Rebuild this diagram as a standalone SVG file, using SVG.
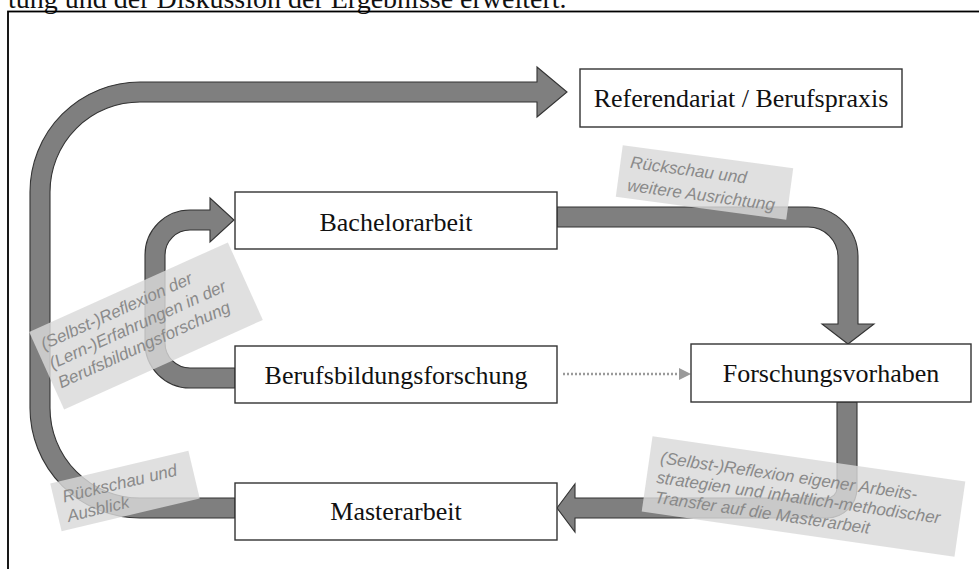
<svg xmlns="http://www.w3.org/2000/svg" width="979" height="569" viewBox="0 0 979 569">
<style>
.frame{fill:none;stroke:#000;stroke-width:1.8}
.arrow{fill:#7f7f7f;stroke:#333;stroke-width:1.1;stroke-linejoin:miter}
.box{fill:#fff;stroke:#333;stroke-width:1.4}
.nt{font-family:"Liberation Serif","Times New Roman",serif;font-size:26px;fill:#111;text-anchor:middle}
.top{font-family:"Liberation Serif","Times New Roman",serif;font-size:28px;fill:#111}
.lb{fill:#d9d9d9;fill-opacity:0.82}
.lt{font-family:"Liberation Sans",Arial,sans-serif;font-size:17px;font-style:italic;fill:#8a8a8a}
.dot{stroke:#9a9a9a;stroke-width:2.5;stroke-dasharray:2 2;fill:none}
</style>
<rect x="0" y="0" width="979" height="569" fill="#fff"/>
<text class="top" x="8" y="8">tung und der Diskussion der Ergebnisse erweitert.</text>
<rect class="frame" x="8" y="11.5" width="1000" height="600"/>
<g id="connectors">
<path class="arrow" d="M 235 518 L 140 518 A 110 110 0 0 1 30 408 L 30 192 A 110 110 0 0 1 140 82 L 537 82 L 537 67 L 567 92 L 537 117 L 537 102 L 140 102 A 90 90 0 0 0 50 192 L 50 408 A 90 90 0 0 0 140 498 L 235 498 Z"/>
<path class="arrow" d="M 235 388 L 190 388 A 45 45 0 0 1 145 343 L 145 255 A 45 45 0 0 1 190 210 L 210 210 L 210 198 L 234 220 L 210 242 L 210 230 L 190 230 A 25 25 0 0 0 165 255 L 165 343 A 25 25 0 0 0 190 368 L 235 368 Z"/>
<path class="arrow" d="M 557 207 L 808 207 A 50 50 0 0 1 858 257 L 858 324 L 874 324 L 848 344 L 822 324 L 838 324 L 838 257 A 30 30 0 0 0 808 227 L 557 227 Z"/>
<path class="arrow" d="M 837 402 L 857 402 L 857 488 A 30 30 0 0 1 827 518 L 575 518 L 575 532 L 557 508 L 575 484 L 575 498 L 827 498 A 10 10 0 0 0 837 488 Z"/>
<line class="dot" x1="563" y1="374" x2="680" y2="374"/>
<polygon points="679,368 691,374 679,380" fill="#9a9a9a"/>
</g>
<g id="referendariat">
<rect class="box" x="580" y="69" width="322" height="58"/>
<text class="nt" x="741" y="107">Referendariat / Berufspraxis</text>
</g>
<g id="bachelorarbeit">
<rect class="box" x="235" y="192" width="322" height="57"/>
<text class="nt" x="396" y="231">Bachelorarbeit</text>
</g>
<g id="berufsbildungsforschung">
<rect class="box" x="235" y="346" width="322" height="57"/>
<text class="nt" x="396" y="384">Berufsbildungsforschung</text>
</g>
<g id="forschungsvorhaben">
<rect class="box" x="691" y="344" width="280" height="58"/>
<text class="nt" x="831" y="382">Forschungsvorhaben</text>
</g>
<g id="masterarbeit">
<rect class="box" x="235" y="483" width="322" height="57"/>
<text class="nt" x="396" y="520">Masterarbeit</text>
</g>
<g id="label-rueckschau-ausrichtung" transform="translate(704.5 182.5) rotate(7.7)">
<rect class="lb" x="-86" y="-26" width="172" height="52"/>
<text class="lt" x="-76" y="-4.5">Rückschau und</text>
<text class="lt" x="-76" y="18.5">weitere Ausrichtung</text>
</g>
<g id="label-reflexion-lern" transform="translate(146 326) rotate(-24.3)">
<rect class="lb" x="-109" y="-42.5" width="218" height="85"/>
<text class="lt" x="-103" y="-20">(Selbst-)Reflexion der</text>
<text class="lt" x="-103" y="1">(Lern-)Erfahrungen in der</text>
<text class="lt" x="-103" y="22">Berufsbildungsforschung</text>
</g>
<g id="label-rueckschau-ausblick" transform="translate(125 491) rotate(-13.4)">
<rect class="lb" x="-71" y="-24.5" width="142" height="49"/>
<text class="lt" x="-62" y="-3">Rückschau und</text>
<text class="lt" x="-62" y="17">Ausblick</text>
</g>
<g id="label-reflexion-transfer" transform="translate(803.5 496.5) rotate(8.2)">
<rect class="lb" x="-158" y="-38" width="316" height="76"/>
<text class="lt" x="-147" y="-12.5">(Selbst-)Reflexion eigener Arbeits-</text>
<text class="lt" x="-148" y="7.5">strategien und inhaltlich-methodischer</text>
<text class="lt" x="-147" y="27.5">Transfer auf die Masterarbeit</text>
</g>
</svg>
